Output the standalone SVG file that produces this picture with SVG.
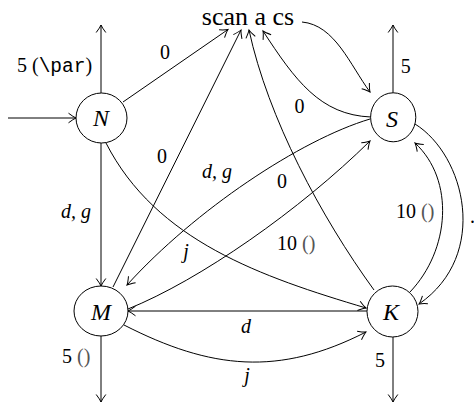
<svg xmlns="http://www.w3.org/2000/svg" width="474" height="405" viewBox="0 0 474 405">
<style>
.n{fill:#fff;stroke:#000;stroke-width:1}
.nl{font-family:'Liberation Serif','Times New Roman','DejaVu Serif',serif;font-style:italic;font-size:24px;text-anchor:middle;fill:#000}
.e{fill:none;stroke:#000;stroke-width:1;marker-end:url(#a)}
.l{font-family:'Liberation Serif','Times New Roman','DejaVu Serif',serif;font-size:20px;fill:#000}
.t{font-family:'Liberation Serif','Times New Roman','DejaVu Serif',serif;font-size:26px;fill:#000;text-anchor:middle}
.i{font-style:italic}
.m{font-family:'Liberation Mono','Courier New',monospace;font-size:19.5px}
.g{fill:#555}
</style>
<defs>
<marker id="a" viewBox="-9 -6 11 12" refX="0" refY="0" markerWidth="11" markerHeight="12" markerUnits="userSpaceOnUse" orient="auto">
<path d="M-7.5,-4.8 Q-2.5,-1 0,0 Q-2.5,1 -7.5,4.8" fill="none" stroke="#000" stroke-width="1"/>
</marker>
</defs>
<g id="connectors">
<path class="e" d="M8,118 L76,118"/>
<path class="e" d="M101,93 L101,25"/>
<path class="e" d="M123,102 L228,29.5"/>
<path class="e" d="M101,143 L101,286"/>
<path class="e" d="M106,143 C156,241 262,277 366,308"/>
<path class="e" d="M113,287 L241,30"/>
<path class="e" d="M374,290 C321,217 268,118 249,30"/>
<path class="e" d="M371,117 C320,115 295,80 263,31"/>
<path class="e" d="M302,22 C335,25 350,65 370,92"/>
<path class="e" d="M393,93 L393,25"/>
<path class="e" d="M370,119 C300,140 195,210 127,285"/>
<path class="e" d="M128,309 C200,280 300,210 370,141"/>
<path class="e" d="M367,311 L128,311"/>
<path class="e" d="M124,325 C211,369.5 279,376.5 366,332"/>
<path class="e" d="M101,336 L101,402"/>
<path class="e" d="M393,337 L393,402"/>
<path class="e" d="M415,124 C465,155 490,255 419,304"/>
<path class="e" d="M410,292 C450,250 455,180 415,143"/>
</g>
<g id="node-scan"><text class="t" x="248" y="25">scan a cs</text></g>
<g id="node-N"><ellipse class="n" cx="101.5" cy="118" rx="25.5" ry="25"/><text class="nl" x="101" y="126">N</text></g>
<g id="node-S"><ellipse class="n" cx="393.2" cy="117.3" rx="22.6" ry="24.5"/><text class="nl" x="392" y="127">S</text></g>
<g id="node-M"><ellipse class="n" cx="101" cy="311" rx="27" ry="25"/><text class="nl" x="101" y="320">M</text></g>
<g id="node-K"><ellipse class="n" cx="392.5" cy="311.5" rx="25.5" ry="25.5"/><text class="nl" x="391" y="320">K</text></g>
<g id="labels">
<text class="l" x="17" y="72">5 (<tspan class="m">\par</tspan>)</text>
<text class="l" x="165" y="58.5" text-anchor="middle">0</text>
<text class="l" x="162" y="163" text-anchor="middle">0</text>
<text class="l i" x="61" y="218">d, g</text>
<text class="l i" x="202" y="178">d, g</text>
<text class="l" x="282" y="188" text-anchor="middle">0</text>
<text class="l" x="299.5" y="113" text-anchor="middle">0</text>
<text class="l" x="277" y="250">10 <tspan class="g">()</tspan></text>
<text class="l i" x="186" y="258" text-anchor="middle">j</text>
<text class="l i" x="246" y="333" text-anchor="middle">d</text>
<text class="l i" x="247" y="382" text-anchor="middle">j</text>
<text class="l" x="62" y="363">5 <tspan class="g">()</tspan></text>
<text class="l" x="380" y="367" text-anchor="middle">5</text>
<text class="l" x="405.7" y="73" text-anchor="middle">5</text>
<text class="l" x="396" y="218">10 <tspan class="g">()</tspan></text>
<text class="l" x="470" y="223">.</text>
</g>
</svg>
